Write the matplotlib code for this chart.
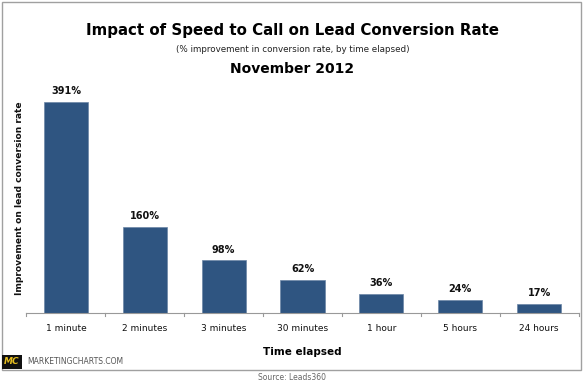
import matplotlib.pyplot as plt
from matplotlib.patches import Rectangle

categories = ['1 minute', '2 minutes', '3 minutes', '30 minutes',
              '1 hour', '5 hours', '24 hours']
values = [391, 160, 98, 62, 36, 24, 17]
value_labels = ['391%', '160%', '98%', '62%', '36%', '24%', '17%']

W, H = 585, 382
fig = plt.figure(figsize=(W / 100, H / 100), dpi=100)

# frame around the chart
fig.add_artist(Rectangle((2 / W, 1 - 370 / H), 579 / W, 368 / H,
                         transform=fig.transFigure, fill=False,
                         edgecolor='#a0a0a0', linewidth=1))

ax = fig.add_axes([26.5 / W, 69 / H, 552 / W, 223 / H])
x = range(len(categories))
ax.bar(x, values, width=0.56, color='#2f5581', edgecolor='#6b86a6',
       linewidth=0.5, zorder=2)
for xi, v, lab in zip(x, values, value_labels):
    ax.annotate(lab, (xi, v), xytext=(0, 4), textcoords='offset points',
                ha='center', va='bottom', fontsize=7, fontweight='bold',
                color='#111111')

ax.set_xlim(-0.5, len(categories) - 0.5)
ax.set_ylim(0, 413)
ax.set_xticks(x)
ax.set_xticklabels(categories, fontsize=6.5, color='#111111')
ax.tick_params(axis='x', length=0, pad=8)
# boundary ticks between categories
for b in [i - 0.5 for i in range(len(categories) + 1)]:
    ax.plot([b, b], [0, -5], color='#999999', linewidth=0.8,
            clip_on=False, zorder=1)
ax.set_yticks([])
for s in ['top', 'right', 'left']:
    ax.spines[s].set_visible(False)
ax.spines['bottom'].set_color('#999999')
ax.spines['bottom'].set_linewidth(0.8)

ax.set_xlabel('Time elapsed', fontsize=7.5, fontweight='bold', labelpad=10)

fig.text(20 / W, 1 - 198 / H, 'Improvement on lead conversion rate',
         rotation=90, ha='center', va='center', fontsize=6.6,
         fontweight='bold', color='#111111')

fig.text(0.5, 1 - 30 / H, 'Impact of Speed to Call on Lead Conversion Rate',
         ha='center', va='center', fontsize=10.8, fontweight='bold')
fig.text(0.5, 1 - 49 / H,
         '(% improvement in conversion rate, by time elapsed)',
         ha='center', va='center', fontsize=6.3, color='#222222')
fig.text(0.5, 1 - 69 / H, 'November 2012', ha='center', va='center',
         fontsize=10, fontweight='bold')

# logo and footer
fig.text(4 / W, 1 - 362 / H, 'MC', ha='left', va='center', fontsize=6.5,
         fontweight='bold', fontstyle='italic', color='#e8c020',
         bbox=dict(boxstyle='square,pad=0.25', facecolor='#111111',
                   edgecolor='none'))
fig.text(27 / W, 1 - 362 / H, 'MARKETINGCHARTS.COM', ha='left',
         va='center', fontsize=5.5, color='#555555')
fig.text(0.5, 1 - 377 / H, 'Source: Leads360', ha='center', va='center',
         fontsize=5.5, color='#666666')

fig.savefig('out.png', dpi=100)
